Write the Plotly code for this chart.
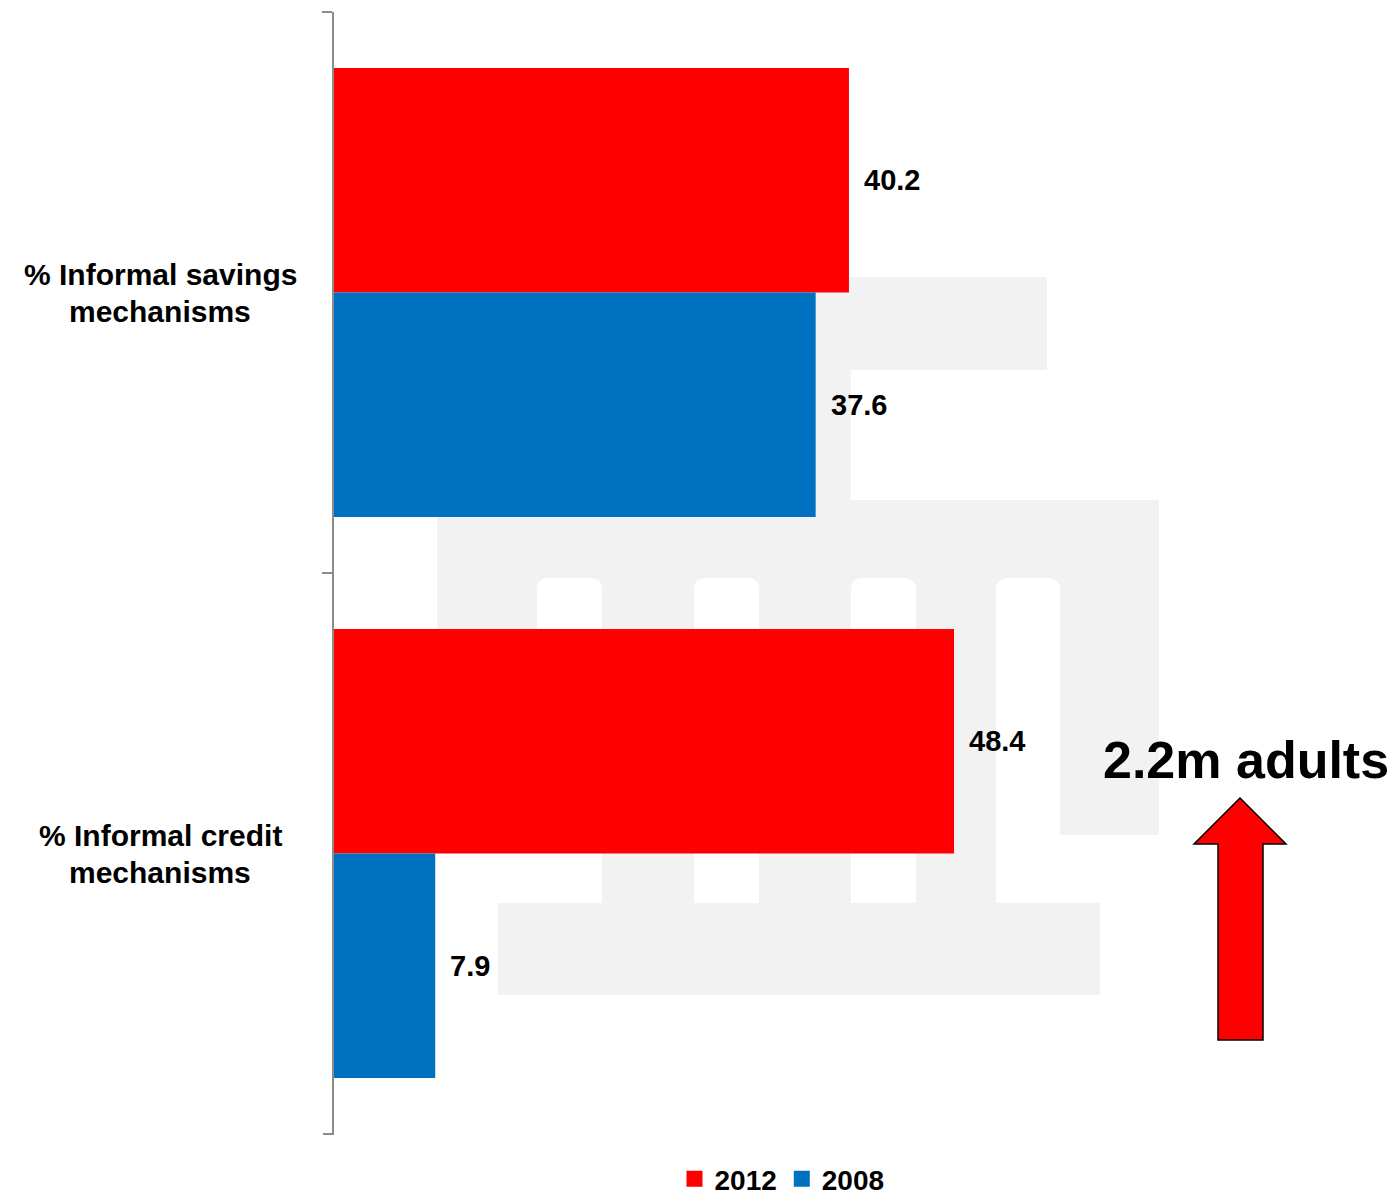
import plotly.graph_objects as go

# ---- data -------------------------------------------------------------
categories = ["% Informal savings mechanisms", "% Informal credit mechanisms"]
category_lines = [["% Informal savings", "mechanisms"],
                  ["% Informal credit", "mechanisms"]]
years = ["2012", "2008"]
values_2012 = [40.2, 48.4]
values_2008 = [37.6, 7.9]
series_colors = {"2012": "#FF0000", "2008": "#0070C0"}
callout_text = "2.2m adults"

# ---- layout geometry (pixels) ----------------------------------------
W, H = 1400, 1198
L, R, T, B = 334, 20, 12, 64
PW, PH = W - L - R, H - T - B
X_MAX = PW / 12.81  # axis span so that one unit is ~12.8 px

FONT = "Liberation Sans, Arial, Helvetica, sans-serif"
AXIS_GREY = "#8C8C8C"


def px(xp):
    return (xp - L) / PW


def py(yp):
    return (H - B - yp) / PH


fig = go.Figure()
for name, vals in zip(years, [values_2012, values_2008]):
    fig.add_trace(go.Bar(
        y=categories, x=vals, name=name, orientation="h",
        legendgroup=name, showlegend=False,
        marker=dict(color=series_colors[name], line=dict(width=0)),
    ))
    # legend entry with a larger square swatch
    fig.add_trace(go.Scatter(
        x=[None], y=[None], mode="markers", name=name, legendgroup=name,
        marker=dict(symbol="square", size=16, color=series_colors[name]),
        hoverinfo="skip",
    ))

shapes = []
GREY = "#F2F2F2"


def rect(x0, y0, x1, y1, color):
    shapes.append(dict(type="rect", xref="paper", yref="paper",
                       x0=px(x0), x1=px(x1), y0=py(y1), y1=py(y0),
                       fillcolor=color, line=dict(width=0), layer="below"))


def rounded_top(x0, y0, x1, y1, r, color):
    # rectangle whose two upper corners are rounded
    path = (f"M {px(x0)} {py(y1)} L {px(x0)} {py(y0 + r)} "
            f"Q {px(x0)} {py(y0)} {px(x0 + r)} {py(y0)} "
            f"L {px(x1 - r)} {py(y0)} "
            f"Q {px(x1)} {py(y0)} {px(x1)} {py(y0 + r)} "
            f"L {px(x1)} {py(y1)} Z")
    shapes.append(dict(type="path", xref="paper", yref="paper", path=path,
                       fillcolor=color, line=dict(width=0), layer="below"))


# faint background emblem
rect(560, 277, 1047, 370, GREY)
rect(740, 370, 851, 500, GREY)
rect(437, 500, 1159, 835, GREY)
rect(602, 835, 996, 903, GREY)
for cx0, cx1 in [(537, 602), (694, 759), (851, 916), (996, 1060)]:
    rounded_top(cx0, 578, cx1, 903, 12, "white")
rect(498, 903, 1100, 995, GREY)

# closing tick at the bottom end of the category axis
shapes.append(dict(type="line", xref="paper", yref="paper",
                   x0=px(323), x1=px(334), y0=0, y1=0,
                   line=dict(color=AXIS_GREY, width=2), layer="above"))

# upward block arrow
arrow_pts = [(1240, 798), (1286, 844), (1263, 844), (1263, 1040),
             (1218, 1040), (1218, 844), (1194, 844)]
arrow_path = "M " + " L ".join(f"{px(a)} {py(b)}" for a, b in arrow_pts) + " Z"
shapes.append(dict(type="path", xref="paper", yref="paper", path=arrow_path,
                   fillcolor="#FF0000", line=dict(color="black", width=1.5),
                   layer="above"))

annotations = []
# category labels, centred lines
for cat, lines in zip(categories, category_lines):
    n = len(lines)
    for i, line in enumerate(lines):
        annotations.append(dict(
            xref="paper", yref="y", x=px(160), y=cat, xanchor="center",
            yanchor="middle", yshift=(n - 1) / 2 * 37 - i * 37,
            text=f"<b>{line}</b>", showarrow=False,
            font=dict(family=FONT, size=30, color="black")))

# value labels beside each bar
for offset, vals in zip([-0.2, 0.2], [values_2012, values_2008]):
    for i, v in enumerate(vals):
        annotations.append(dict(
            xref="x", yref="y", x=v, y=i + offset, xanchor="left",
            yanchor="middle", xshift=13, text=f"<b>{v}</b>", showarrow=False,
            font=dict(family=FONT, size=29, color="black")))

annotations.append(dict(
    xref="paper", yref="paper", x=px(1246), y=py(760), xanchor="center",
    yanchor="middle", text=f"<b>{callout_text}</b>", showarrow=False,
    font=dict(family=FONT, size=52, color="black")))

fig.update_layout(
    width=W, height=H,
    margin=dict(l=L, r=R, t=T, b=B, autoexpand=False),
    paper_bgcolor="white", plot_bgcolor="rgba(0,0,0,0)",
    barmode="group", bargap=0.2, bargroupgap=0,
    font=dict(family=FONT, color="black"),
    shapes=shapes, annotations=annotations,
    legend=dict(orientation="h", x=px(782), y=py(1179), xanchor="center",
                yanchor="middle", font=dict(family=FONT, size=28,
                                            color="black", weight="bold"),
                bgcolor="rgba(0,0,0,0)", traceorder="normal",
                itemwidth=30),
    xaxis=dict(range=[0, X_MAX], visible=False, fixedrange=True),
    yaxis=dict(autorange="reversed", showticklabels=False, showline=True,
               linecolor=AXIS_GREY, linewidth=2, ticks="outside",
               tickson="boundaries", ticklen=10, tickcolor=AXIS_GREY,
               tickwidth=2, showgrid=False, zeroline=False),
)

fig.write_html("out.html")
